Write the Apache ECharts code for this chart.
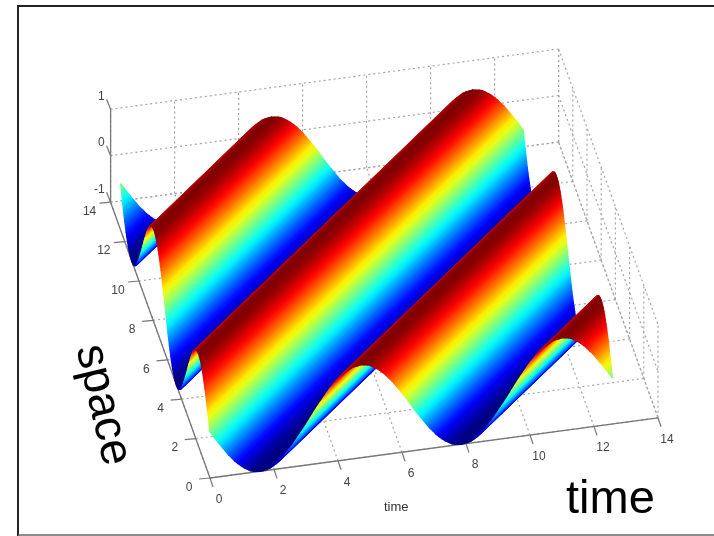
<!DOCTYPE HTML>
<html>
	<head>
		<meta http-equiv="Content-Type" content="text/html; charset=utf-8" />
		<title>space time surface</title>
		<style type="text/css">
			html, body { margin: 0; padding: 0; background: #fff; }
			#chart { width: 714px; height: 536px; }
		</style>
	</head>
	<body>
		<div id="chart"></div>
		<script type="text/javascript" src="https://cdn.jsdelivr.net/npm/echarts@6/dist/echarts.min.js"></script>
		<script type="text/javascript">
		var timeTicks = [0, 2, 4, 6, 8, 10, 12, 14];
		var spaceTicks = [0, 2, 4, 6, 8, 10, 12, 14];
		var heightTicks = [-1, 0, 1];
		// height read along one wave, going across the ridges (time minus space rising), 64 steps
		var waveHeights = [
			0, -0.10, -0.20, -0.29, -0.38, -0.47, -0.56, -0.63,
			-0.71, -0.77, -0.83, -0.88, -0.92, -0.96, -0.98, -0.99,
			-1, -0.99, -0.98, -0.96, -0.92, -0.88, -0.83, -0.77,
			-0.71, -0.63, -0.56, -0.47, -0.38, -0.29, -0.20, -0.10,
			0, 0.10, 0.20, 0.29, 0.38, 0.47, 0.56, 0.63,
			0.71, 0.77, 0.83, 0.88, 0.92, 0.96, 0.98, 0.99,
			1, 0.99, 0.98, 0.96, 0.92, 0.88, 0.83, 0.77,
			0.71, 0.63, 0.56, 0.47, 0.38, 0.29, 0.20, 0.10
		];
		var jetColors = ['#00007f', '#0000ff', '#007fff', '#00ffff', '#7fff7f', '#ffff00', '#ff7f00', '#ff0000', '#7f0000'];

		var surfaceSteps = 128; // surface stops at two wave lengths in both directions
		var stepSize = 12.566 / surfaceSteps;
		var axisMax = 14;
		var labelFont = '12px "Liberation Sans"';

		// camera of the reference, time/space/height to picture position
		function project(t, s, z) {
			return [
				210 + 32 * t - 7.1 * s,
				478 - 4.3 * t - 19.7 * s - 46.5 * (z + 1)
			];
		}

		function heightAt(k) {
			return waveHeights[((k % 64) + 64) % 64];
		}

		function jet(z) {
			return echarts.color.lerp((z + 1) / 2, jetColors);
		}

		// ridges are straight, so the surface is built from strips running along them, far strips first
		var strips = [];
		for (var k = -surfaceSteps; k < surfaceSteps; k++) {
			strips.push([k, heightAt(k), heightAt(k + 1)]);
		}

		function ridgeEnds(k, z) {
			var L = surfaceSteps;
			var a = k >= 0 ? [k, 0] : [0, -k];
			var b = k >= 0 ? [L, L - k] : [L + k, L];
			return [
				project(a[0] * stepSize, a[1] * stepSize, z),
				project(b[0] * stepSize, b[1] * stepSize, z)
			];
		}

		// colour runs across the strip, from one ridge line to the next
		function stripFill(p, q, c0, c1) {
			var o = project(0, 0, 0);
			var e = project(1, 1, 0);
			var dx = e[0] - o[0];
			var dy = e[1] - o[1];
			var len = Math.sqrt(dx * dx + dy * dy);
			dx /= len;
			dy /= len;
			var vx = q[0] - p[0];
			var vy = q[1] - p[1];
			var along = vx * dx + vy * dy;
			var nx = vx - along * dx;
			var ny = vy - along * dy;
			if (Math.abs(nx) + Math.abs(ny) < 0.01) {
				return c1;
			}
			return new echarts.graphic.LinearGradient(p[0], p[1], p[0] + nx, p[1] + ny, [
				{offset: 0, color: c0},
				{offset: 1, color: c1}
			], true);
		}

		// box lines: [from, to, kind]
		var boxLines = [];
		function addLine(a, b, kind) {
			boxLines.push([a, b, kind]);
		}
		timeTicks.forEach(function(t) {
			addLine([t, 0, -1], [t, axisMax, -1], 'dot');
			addLine([t, axisMax, -1], [t, axisMax, 1], 'dot');
		});
		spaceTicks.forEach(function(s) {
			addLine([0, s, -1], [axisMax, s, -1], 'dot');
			addLine([axisMax, s, -1], [axisMax, s, 1], 'dot');
		});
		heightTicks.forEach(function(z) {
			addLine([0, axisMax, z], [axisMax, axisMax, z], 'dot');
			addLine([axisMax, axisMax, z], [axisMax, 0, z], 'dot');
		});
		addLine([0, 0, -1], [axisMax, 0, -1], 'axis');
		addLine([0, 0, -1], [0, axisMax, -1], 'axis');
		addLine([0, axisMax, -1], [0, axisMax, 1], 'axis');

		// tick marks and their labels: [time, space, height, tick dx, tick dy, label dx, label dy, text, align]
		var tickRows = [];
		timeTicks.forEach(function(t) {
			tickRows.push([t, 0, -1, 3, 9, 9, 21.5, String(t), 'center']);
		});
		spaceTicks.forEach(function(s) {
			tickRows.push([0, s, -1, -11, 1, -21, 9.5, String(s), 'center']);
		});
		heightTicks.forEach(function(z) {
			tickRows.push([0, axisMax, z, -4, -10, -6, -13, String(z), 'right']);
		});

		var myChart = echarts.init(document.getElementById('chart'), null, {renderer: 'canvas'});

		var option = {
			animation: false,
			grid: {left: 0, right: 0, top: 0, bottom: 0},
			xAxis: {type: 'value', min: 0, max: 714, show: false},
			yAxis: {type: 'value', min: 0, max: 536, inverse: true, show: false},
			graphic: [
				{type: 'line', z: 50, shape: {x1: 18, y1: 5, x2: 18, y2: 536}, style: {stroke: '#222', lineWidth: 2}},
				{type: 'line', z: 50, shape: {x1: 17, y1: 6, x2: 714, y2: 6}, style: {stroke: '#222', lineWidth: 2}},
				{type: 'line', z: 50, shape: {x1: 18, y1: 535, x2: 714, y2: 535}, style: {stroke: '#666', lineWidth: 1.5}},
				{type: 'text', z: 50, x: 566, y: 477, style: {text: 'time', font: '47px "Liberation Sans"', fill: '#000'}},
				{type: 'text', z: 50, x: 111, y: 340, rotation: -1.34, style: {text: 'space', font: '46px "Liberation Sans"', fill: '#000'}},
				{type: 'text', z: 50, x: 384, y: 501, style: {text: 'time', font: '13px "Liberation Sans"', fill: '#333'}}
			],
			series: [
				{
					type: 'custom',
					coordinateSystem: 'cartesian2d',
					silent: true,
					clip: false,
					z: 1,
					data: boxLines.map(function(row, i) { return [i]; }),
					renderItem: function(params, api) {
						var row = boxLines[api.value(0)];
						var a = api.coord(project(row[0][0], row[0][1], row[0][2]));
						var b = api.coord(project(row[1][0], row[1][1], row[1][2]));
						var isDot = row[2] === 'dot';
						return {
							type: 'line',
							shape: {x1: a[0], y1: a[1], x2: b[0], y2: b[1]},
							style: {
								stroke: isDot ? '#a4a4a4' : '#777',
								lineWidth: isDot ? 1.2 : 1.3,
								lineDash: isDot ? [2, 3] : null
							}
						};
					}
				},
				{
					type: 'custom',
					coordinateSystem: 'cartesian2d',
					silent: true,
					clip: false,
					z: 2,
					data: tickRows.map(function(row, i) { return [i]; }),
					renderItem: function(params, api) {
						var row = tickRows[api.value(0)];
						var p = api.coord(project(row[0], row[1], row[2]));
						return {
							type: 'group',
							children: [
								{
									type: 'line',
									shape: {x1: p[0], y1: p[1], x2: p[0] + row[3], y2: p[1] + row[4]},
									style: {stroke: '#777', lineWidth: 1.2}
								},
								{
									type: 'text',
									style: {
										x: p[0] + row[5],
										y: p[1] + row[6],
										text: row[7],
										font: labelFont,
										fill: '#444',
										align: row[8],
										verticalAlign: 'middle'
									}
								}
							]
						};
					}
				},
				{
					type: 'custom',
					coordinateSystem: 'cartesian2d',
					silent: true,
					clip: false,
					progressive: 0,
					z: 3,
					data: strips,
					renderItem: function(params, api) {
						var k = api.value(0);
						var z0 = api.value(1);
						var z1 = api.value(2);
						var a = ridgeEnds(k, z0);
						var b = ridgeEnds(k + 1, z1);
						var points = [a[0], a[1], b[1], b[0]].map(function(p) {
							return api.coord(p);
						});
						var fill = stripFill(points[0], points[3], jet(z0), jet(z1));
						return {
							type: 'polygon',
							shape: {points: points},
							// wide stroke hides the seam, otherwise the hidden slope behind bleeds through
							style: {fill: fill, stroke: fill, lineWidth: 1.6, lineJoin: 'round'}
						};
					}
				}
			]
		};

		myChart.setOption(option);
		</script>
	</body>
</html>
